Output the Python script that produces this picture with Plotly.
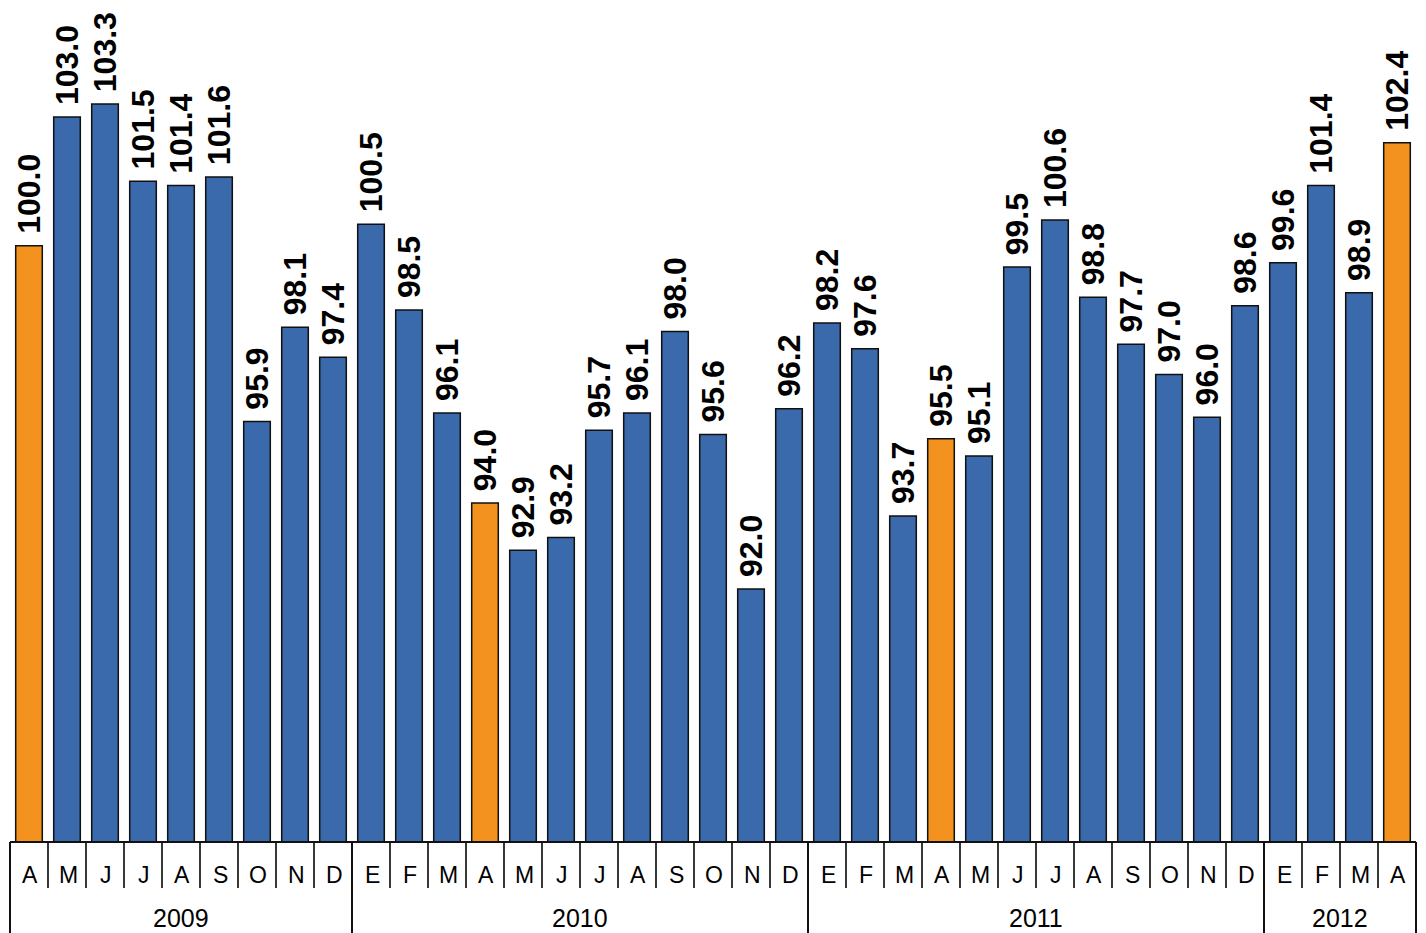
import plotly.graph_objects as go

months = ["A", "M", "J", "J", "A", "S", "O", "N", "D",
          "E", "F", "M", "A", "M", "J", "J", "A", "S", "O", "N", "D",
          "E", "F", "M", "A", "M", "J", "J", "A", "S", "O", "N", "D",
          "E", "F", "M", "A"]
values = [100.0, 103.0, 103.3, 101.5, 101.4, 101.6, 95.9, 98.1, 97.4,
          100.5, 98.5, 96.1, 94.0, 92.9, 93.2, 95.7, 96.1, 98.0, 95.6, 92.0, 96.2,
          98.2, 97.6, 93.7, 95.5, 95.1, 99.5, 100.6, 98.8, 97.7, 97.0, 96.0, 98.6,
          99.6, 101.4, 98.9, 102.4]
years = ["2009", "2010", "2011", "2012"]
year_counts = [9, 12, 12, 4]
highlight_idx = [0, 12, 24, 36]  # April of each year

BLUE = "#3A6AAB"
ORANGE = "#F4921F"
FONT = "Liberation Sans, Arial, sans-serif"

xs = list(range(len(values)))
colors = [ORANGE if i in highlight_idx else BLUE for i in xs]

fig = go.Figure()
fig.add_trace(go.Bar(
    x=xs, y=values, width=0.70,
    marker=dict(color=colors, line=dict(color="#111111", width=1.5)),
    text=[f" {v:.1f}" for v in values],
    textposition="outside", textangle=-90,
    textfont=dict(family=FONT, size=32, color="black", weight="bold"),
    constraintext="none", cliponaxis=False,
    hoverinfo="skip",
))

n = len(values)
PH = 834  # plot height in px
shapes = []
bounds = [0]
for c in year_counts:
    bounds.append(bounds[-1] + c)
for b in bounds:
    xp = b / n
    shapes.append(dict(type="line", xref="paper", yref="paper", x0=xp, x1=xp,
                       y0=0, y1=-100 / PH, line=dict(color="#111111", width=2)))
for b in range(1, n):
    if b in bounds:
        continue
    xp = b / n
    shapes.append(dict(type="line", xref="paper", yref="paper", x0=xp, x1=xp,
                       y0=0, y1=-46 / PH, line=dict(color="#222222", width=1.8)))
shapes.append(dict(type="line", xref="paper", yref="paper", x0=0, x1=1, y0=0, y1=0,
                   line=dict(color="#111111", width=2)))

annotations = []
for i, m in enumerate(months):
    annotations.append(dict(x=i, y=-33 / PH, xref="x", yref="paper", text=m,
                            showarrow=False, yanchor="middle", xshift=1,
                            font=dict(family=FONT, size=23, color="black")))
start = 0
for yr, c in zip(years, year_counts):
    center = start + (c - 1) / 2
    annotations.append(dict(x=center, y=-76 / PH, xref="x", yref="paper", text=yr,
                            showarrow=False, yanchor="middle",
                            font=dict(family=FONT, size=25, color="black")))
    start += c

fig.update_layout(
    width=1426, height=933,
    margin=dict(l=2, r=18, t=0, b=99),
    plot_bgcolor="white", paper_bgcolor="white",
    showlegend=False,
    xaxis=dict(range=[-0.5, n - 0.5], showticklabels=False, showgrid=False,
               zeroline=False, showline=False, ticks=""),
    yaxis=dict(range=[86.1, 105.54], visible=False, showgrid=False, zeroline=False),
    shapes=shapes, annotations=annotations,
)

fig.write_html("out.html")
